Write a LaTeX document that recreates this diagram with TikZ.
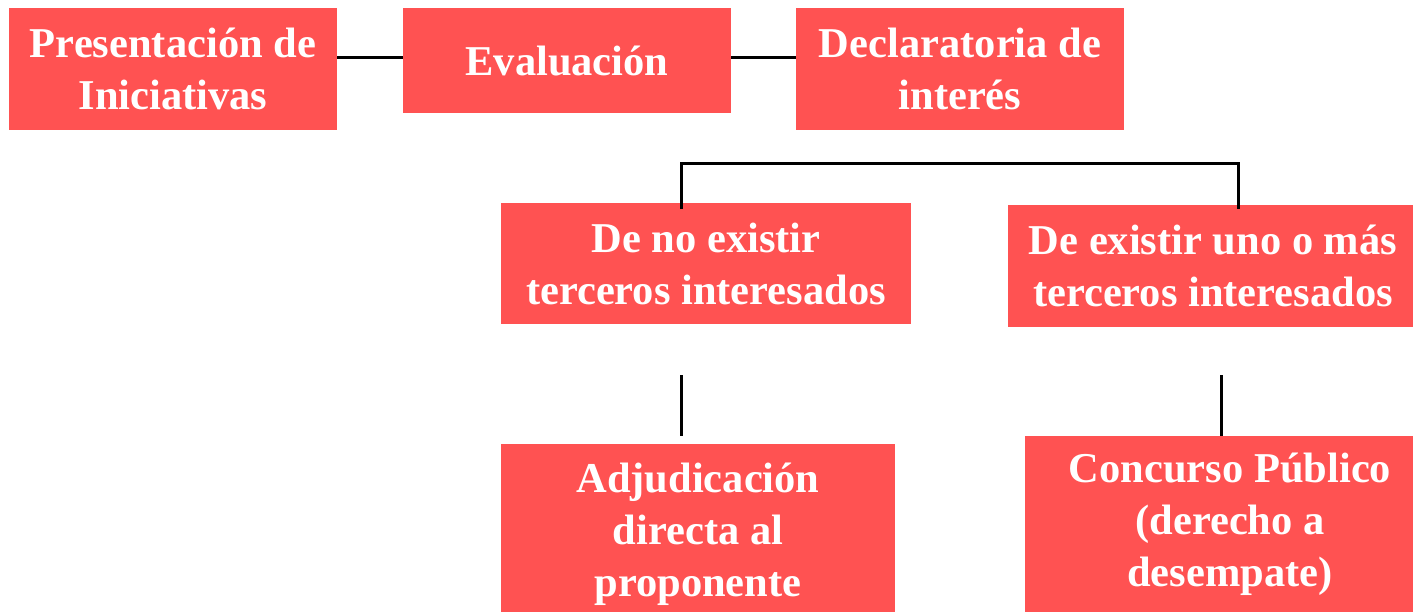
\documentclass[tikz,border=0pt]{standalone}
\usepackage{fontspec}
\setmainfont{Liberation Serif}
\definecolor{boxred}{HTML}{FF5252}
\begin{document}
\begin{tikzpicture}[x=1pt,y=-1pt,
  box/.style={rectangle, fill=boxred, draw=none, inner sep=0pt, text=white,
    align=center, font=\bfseries\fontsize{42.5}{52}\selectfont},
  conn/.style={draw=black, line width=3pt}]
\useasboundingbox (0,0) rectangle (1413,611);
\node[box, minimum width=328, minimum height=122] (b1) at (173,69) {Presentación de\\Iniciativas};
\node[box, minimum width=328, minimum height=105] (b2) at (567,60.5) {Evaluación};
\node[box, minimum width=328, minimum height=122] (b3) at (960,69) {Declaratoria de\\interés};
\node[box, minimum width=410, minimum height=121] (b4) at (706,263.5) {De no existir\\terceros interesados};
\node[box, minimum width=410, minimum height=122] (b5) at (1213,266) {De existir uno o más\\terceros interesados};
\node[box, minimum width=394, minimum height=180] (b6) at (698,534) {Adjudicación\\directa al\\proponente};
\node[box, minimum width=410, minimum height=177] (b7) at (1230,524.5) {Concurso Público\\(derecho a\\desempate)};
\coordinate (top) at (0,57);
\coordinate (bar) at (0,163);
\coordinate (l1) at (681,209);
\coordinate (r1) at (1238,209);
\coordinate (l2) at (681,375);
\coordinate (l3) at (681,436);
\coordinate (r2) at (1221,375);
\draw[conn] (b1.east |- top) -- (b2.west |- top);
\draw[conn] (b2.east |- top) -- (b3.west |- top);
\draw[conn] (l1) -- (l1 |- bar) -- (r1 |- bar) -- (r1);
\draw[conn] (l2) -- (l3);
\draw[conn] (r2) -- (r2 |- b7.north);
\end{tikzpicture}
\end{document}
